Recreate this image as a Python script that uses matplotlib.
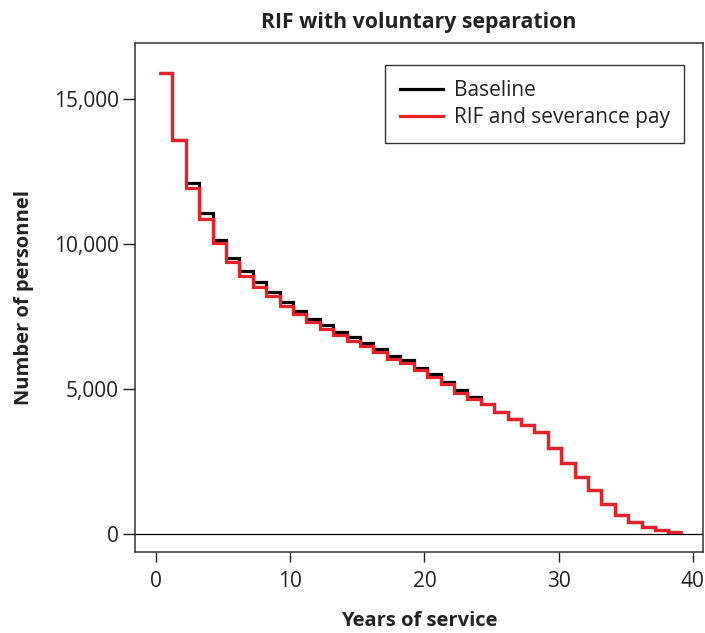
import numpy as np
import matplotlib
matplotlib.use("Agg")
import matplotlib.pyplot as plt
from matplotlib.ticker import FuncFormatter

plt.rcParams['font.family'] = ['Open Sans', 'DejaVu Sans']

# years of service (start of each step)
years = np.arange(0, 39)

baseline = [15900, 13600, 12120, 11070, 10150, 9530, 9070, 8690, 8340, 8010,
            7700, 7430, 7220, 6990, 6790, 6600, 6390, 6160, 6010, 5740,
            5520, 5240, 4975, 4725, 4500, 4217, 3986, 3758, 3517, 2965,
            2458, 1986, 1517, 1045, 676, 414, 241, 148, 79]

rif_severance = [15900, 13600, 11930, 10870, 10030, 9390, 8910, 8530, 8200, 7880,
                 7600, 7320, 7090, 6860, 6665, 6490, 6285, 6055, 5900, 5655,
                 5415, 5170, 4880, 4655, 4485, 4217, 3986, 3758, 3517, 2965,
                 2458, 1986, 1517, 1045, 676, 414, 241, 148, 79]

series_labels = ['Baseline', 'RIF and severance pay']
series_colors = ['black', '#e8202a']

fig = plt.figure(figsize=(7.05, 6.33), dpi=100)
ax = fig.add_axes([0.1919, 0.1272, 0.8048, 0.8044])

edges = np.append(years, years[-1] + 1) + 0.2
ax.axhline(0, color='black', lw=0.9, zorder=1)
ax.stairs(baseline, edges, color=series_colors[0], lw=2.3, label=series_labels[0],
          baseline=None, zorder=2)
ax.stairs(rif_severance, edges, color=series_colors[1], lw=2.3, label=series_labels[1],
          baseline=None, zorder=3)

ax.set_xlim(-1.56, 40.75)
ax.set_ylim(-628, 16930)
ax.set_xticks([0, 10, 20, 30, 40])
ax.set_yticks([0, 5000, 10000, 15000])
ax.yaxis.set_major_formatter(FuncFormatter(lambda v, p: f'{int(v):,}'))
ax.tick_params(axis='both', labelsize=15, width=1.0, color='#222222', labelcolor='#222222')
ax.tick_params(axis='y', length=8.4, pad=3.5)
ax.tick_params(axis='x', length=7, pad=6)
for s in ax.spines.values():
    s.set_linewidth(1.1)
    s.set_color('#333333')

ax.set_title('RIF with voluntary separation', fontsize=15.3, fontweight='bold',
             color='#222222', pad=11)
ax.set_xlabel('Years of service', fontsize=14.5, fontweight='bold', color='#222222', labelpad=14)
ax.set_ylabel('Number of personnel', fontsize=14.5, fontweight='bold', color='#222222', labelpad=14)

leg = ax.legend(loc='upper right', bbox_to_anchor=(0.9677, 0.9568), borderaxespad=0,
                fontsize=15, frameon=True, fancybox=False, handlelength=2.1,
                handletextpad=0.5, labelspacing=0.3, borderpad=0.7)
leg.get_frame().set_edgecolor('black')
leg.get_frame().set_linewidth(1.0)
for t in leg.get_texts():
    t.set_color('#222222')

fig.savefig('out.png', dpi=100)
